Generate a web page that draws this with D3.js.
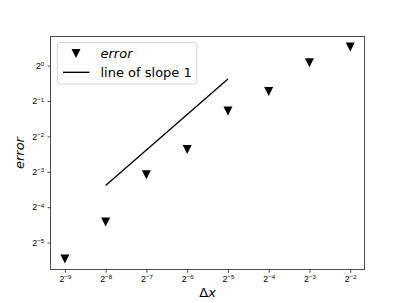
<!DOCTYPE html>
<html>
<head>
<meta charset="utf-8">
<script src="https://cdn.jsdelivr.net/npm/d3@7"></script>
<style>
body { margin: 0; background: #fff; }
svg { font-family: "DejaVu Sans", sans-serif; }
</style>
</head>
<body>
<div class="plot"></div>
<script>
// data
var dx = [0.001953125, 0.00390625, 0.0078125, 0.015625, 0.03125, 0.0625, 0.125, 0.25]
var errors = [0.0226, 0.0467, 0.118, 0.193, 0.412, 0.603, 1.06, 1.44]
var slopeX = [0.00390625, 0.03125]
var slopeY = [0.0954, 0.768]
var xTickExp = [-9, -8, -7, -6, -5, -4, -3, -2]
var yTickExp = [-5, -4, -3, -2, -1, 0]

var svgWidth = 405;
var svgHeight = 303;
var axL = 50.6, axR = 364.5, axT = 36.4, axB = 269.7;

var lg = function(v) { return Math.log2(v); };
var pad = function(lo, hi) {
  var a = lg(lo), b = lg(hi), m = (b - a) * 0.05;
  return [Math.pow(2, a - m), Math.pow(2, b + m)];
};

var allY = errors.concat(slopeY);
var x = d3.scaleLog().base(2).domain(pad(d3.min(dx), d3.max(dx))).range([axL, axR]);
var y = d3.scaleLog().base(2).domain(pad(d3.min(allY), d3.max(allY))).range([axB, axT]);

var mysvg = d3.select(".plot")
  .append("svg")
  .attr("width", svgWidth)
  .attr("height", svgHeight);

var supLabel = function(sel) {
  sel.each(function(d) {
    var t = d3.select(this).text(null);
    t.append("tspan").text("2");
    t.append("tspan")
      .attr("dy", "-0.45em")
      .attr("font-size", "0.7em")
      .text(d === 0 ? "0" : "\u2212" + Math.abs(d));
  });
};

// x axis
var xAxis = mysvg.append("g")
  .attr("transform", "translate(0," + axB + ")")
  .call(d3.axisBottom(x)
    .tickValues(xTickExp.map(function(e) { return Math.pow(2, e); }))
    .tickSize(3.1).tickPadding(3.2));
xAxis.selectAll(".tick text")
  .data(xTickExp)
  .attr("font-size", "8.8px")
  .attr("fill", "#000")
  .call(supLabel);

// y axis
var yAxis = mysvg.append("g")
  .attr("transform", "translate(" + axL + ",0)")
  .call(d3.axisLeft(y)
    .tickValues(yTickExp.map(function(e) { return Math.pow(2, e); }))
    .tickSize(3.1).tickPadding(3.2));
yAxis.selectAll(".tick text")
  .data(yTickExp)
  .attr("font-size", "8.8px")
  .attr("fill", "#000")
  .call(supLabel);

mysvg.selectAll(".domain").remove();
mysvg.selectAll(".tick line").attr("stroke", "#000").attr("stroke-width", 0.7);

// frame
mysvg.append("rect")
  .attr("x", axL).attr("y", axT)
  .attr("width", axR - axL).attr("height", axB - axT)
  .attr("fill", "none")
  .attr("stroke", "#000")
  .attr("stroke-width", 0.7)
  .attr("shape-rendering", "crispEdges");

// slope line
mysvg.append("path")
  .datum(d3.zip(slopeX, slopeY))
  .attr("d", d3.line().x(function(d) { return x(d[0]); }).y(function(d) { return y(d[1]); }))
  .attr("stroke", "#000")
  .attr("stroke-width", 1.35)
  .attr("fill", "none");

// markers
var tri = "M-4.5,-4.5L4.5,-4.5L0,4.5Z";
mysvg.selectAll(".mark")
  .data(d3.zip(dx, errors))
  .enter()
  .append("path")
  .attr("class", "mark")
  .attr("d", tri)
  .attr("transform", function(d) { return "translate(" + x(d[0]) + "," + y(d[1]) + ")"; })
  .attr("fill", "#000");

// axis labels
mysvg.append("text")
  .attr("x", (axL + axR) / 2)
  .attr("y", 297)
  .attr("text-anchor", "middle")
  .attr("font-size", "13px")
  .html('\u0394<tspan font-style="italic">x</tspan>');

mysvg.append("text")
  .attr("transform", "translate(24," + ((axT + axB) / 2) + ") rotate(-90)")
  .attr("text-anchor", "middle")
  .attr("font-size", "13px")
  .attr("font-style", "italic")
  .text("error");

// legend
var leg = mysvg.append("g");
leg.append("rect")
  .attr("x", 57.3).attr("y", 42.5)
  .attr("width", 139.5).attr("height", 41.5)
  .attr("rx", 2.5)
  .attr("fill", "#fff").attr("fill-opacity", 0.8)
  .attr("stroke", "#ccc").attr("stroke-width", 0.8);
leg.append("path")
  .attr("d", tri)
  .attr("transform", "translate(76,53.5)")
  .attr("fill", "#000");
leg.append("line")
  .attr("x1", 63).attr("x2", 89.5)
  .attr("y1", 72.3).attr("y2", 72.3)
  .attr("stroke", "#000").attr("stroke-width", 1.35);
leg.append("text")
  .attr("x", 100.5).attr("y", 58)
  .attr("font-size", "13px")
  .attr("font-style", "italic")
  .text("error");
leg.append("text")
  .attr("x", 100.5).attr("y", 76.8)
  .attr("font-size", "13px")
  .text("line of slope 1");
</script>
</body>
</html>
